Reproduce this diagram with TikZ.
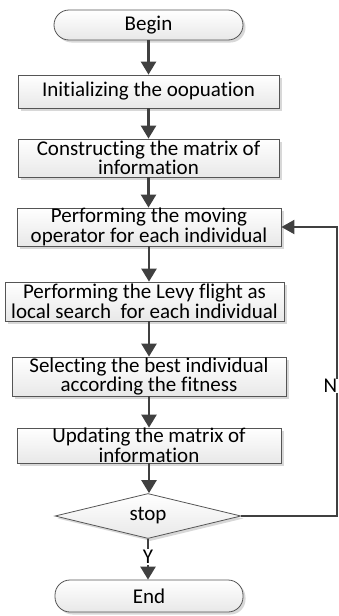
\documentclass[tikz,border=0pt]{standalone}
\usepackage{fontspec}
\setmainfont{Carlito}[Ligatures={NoCommon}]
\usetikzlibrary{shapes.geometric,arrows.meta,shadows}
\definecolor{edgegray}{HTML}{555555}
\definecolor{arrgray}{HTML}{404040}
\tikzset{
  base/.style={draw=edgegray, line width=0.8pt, top color=white, bottom color=black!9,
    inner sep=0pt, align=center, font=\fontsize{21}{19.5}\selectfont,
    drop shadow={shadow xshift=2.5pt, shadow yshift=-2.5pt, fill=black!22, opacity=0.7}},
  procbox/.style={base, rectangle},
  termbox/.style={base, rectangle, rounded corners=15pt},
  decbox/.style={base, diamond, aspect=4},
  arr/.style={draw=arrgray, line width=2.5pt, -{Triangle[width=15pt,length=13pt]}},
  fb/.style={draw=arrgray, line width=2pt, -{Triangle[width=14pt,length=13pt]}},
  lbl/.style={fill=white, inner sep=1pt, font=\fontsize{21}{19.5}\selectfont}
}
\begin{document}
\begin{tikzpicture}[x=1pt,y=-1pt]
\useasboundingbox (0,0) rectangle (338,616);
\node[termbox, minimum width=189pt, minimum height=30pt] (begin) at (148.5,25) {Begin};
\node[procbox, minimum width=261pt, minimum height=33pt] (init) at (148.5,91.5) {Initializing the oopuation};
\node[procbox, minimum width=261pt, minimum height=38pt] (cons) at (148.5,158) {Constructing the matrix of\\information};
\node[procbox, minimum width=264pt, minimum height=38pt] (move) at (149,227) {Performing the moving\\operator for each individual};
\node[procbox, minimum width=279pt, minimum height=39pt] (levy) at (144.5,301.5) {Performing the Levy flight as\\local search\ \ for each individual};
\node[procbox, minimum width=274pt, minimum height=39pt] (sel) at (149,376.5) {Selecting the best individual\\according the fitness};
\node[procbox, minimum width=264pt, minimum height=35pt] (upd) at (149,445.5) {Updating the matrix of\\information};
\node[decbox, minimum width=186pt, minimum height=45pt] (stop) at (148,516) {stop};
\node[termbox, minimum width=188pt, minimum height=32pt] (end) at (149,596) {End};
\coordinate (c1) at (337,516);
\coordinate (c2) at (337,227);

\draw[arr] (begin.south) -- (begin.south |- init.north);
\draw[arr] (init.south) -- (init.south |- cons.north);
\draw[arr] (cons.south) -- (cons.south |- move.north);
\draw[arr] (move.south) -- (move.south |- levy.north);
\draw[arr] (move.south |- levy.south) -- (move.south |- sel.north);
\draw[arr] (sel.south) -- (sel.south |- upd.north);
\draw[arr] (upd.south) -- (upd.south |- stop.north);
\draw[arr] (stop.south) -- node[lbl, pos=0.45] {Y} (stop.south |- end.north);
\draw[fb] (stop.east) -- (c1) -- (c2) -- (move.east);
\node[lbl, anchor=east, inner sep=0.5pt] (nlbl) at (338,386) {N};
\end{tikzpicture}
\end{document}
